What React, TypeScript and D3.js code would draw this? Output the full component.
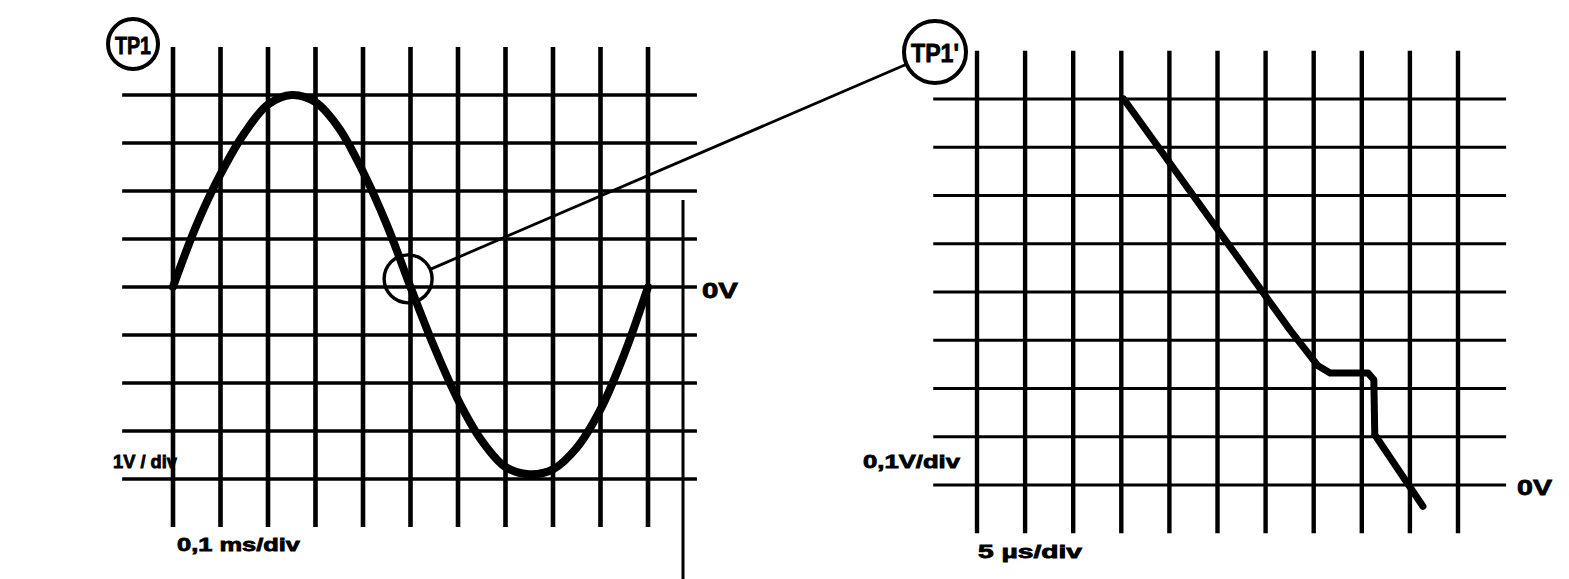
import React from "react";
import * as d3 from "d3";

// Left screen: test point TP1, 0,1 ms/div horizontally, 1 V/div vertically
const leftTimeDivs = [0, 1, 2, 3, 4, 5, 6, 7, 8, 9, 10];
const leftVoltDivs = [-4, -3, -2, -1, 0, 1, 2, 3, 4];
const leftTraceTime = [0, 0.5, 1, 1.5, 2, 2.5, 3, 3.5, 4, 4.5, 5, 5.5, 6, 6.5, 7, 7.5, 8, 8.5, 9, 9.5, 10];
const leftTraceVolts = [0, 1.3, 2.35, 3.2, 3.8, 4.0, 3.85, 3.3, 2.4, 1.3, 0, -1.25, -2.35, -3.2, -3.75, -3.9, -3.8, -3.35, -2.55, -1.4, 0];

// Right screen: zoomed view at TP1', 5 µs/div horizontally, 0,1 V/div vertically
const rightTimeDivs = [0, 1, 2, 3, 4, 5, 6, 7, 8, 9, 10];
const rightVoltDivs = [0, 1, 2, 3, 4, 5, 6, 7, 8];
const rightTraceTime = [3.05, 6.51, 7.09, 7.34, 8.13, 8.25, 8.27, 9.27];
const rightTraceVolts = [8, 3.21, 2.47, 2.32, 2.32, 2.18, 1.04, -0.44];

const labels = {
  left: { probe: "TP1", volts: "1V / div", time: "0,1 ms/div", zero: "0V" },
  right: { probe: "TP1'", volts: "0,1V/div", time: "5 µs/div", zero: "0V" },
};

const W = 1569;
const H = 579;
const FONT = "'Liberation Sans', Arial, sans-serif";

export default function App() {
  const lx = d3.scaleLinear().domain([0, 10]).range([173, 648]);
  const ly = d3.scaleLinear().domain([-4, 4]).range([479, 95]);
  const rx = d3.scaleLinear().domain([0, 10]).range([977, 1458]);
  const ry = d3.scaleLinear().domain([0, 8]).range([485, 99]);

  const leftLine = d3
    .line<number>()
    .x((_, i) => lx(leftTraceTime[i]))
    .y((v) => ly(v))
    .curve(d3.curveCatmullRom.alpha(0.5));

  const rightLine = d3
    .line<number>()
    .x((_, i) => rx(rightTraceTime[i]))
    .y((v) => ry(v))
    .curve(d3.curveLinear);

  // zoom marker on the left trace and its leader to the TP1' badge
  const mark = { x: lx(4.95), y: ly(0.17), r: 24 };
  const badgeR = { x: 935, y: 52, r: 31 };
  const badgeL = { x: 133, y: 44, r: 25 };
  const dx = badgeR.x - mark.x;
  const dy = badgeR.y - mark.y;
  const len = Math.hypot(dx, dy);
  const ux = dx / len;
  const uy = dy / len;

  const text = (
    s: string,
    x: number,
    y: number,
    size: number,
    width: number,
    anchor: "start" | "middle" = "start"
  ) => (
    <text
      x={x}
      y={y}
      fontFamily={FONT}
      fontWeight="bold"
      fontSize={size}
      textAnchor={anchor}
      textLength={width}
      lengthAdjust="spacingAndGlyphs"
      fill="#000"
      stroke="#000"
      strokeWidth={0.8}
    >
      {s}
    </text>
  );

  return (
    <svg
      width={W}
      height={H}
      viewBox={`0 0 ${W} ${H}`}
      style={{ position: "absolute", left: 0, top: 0, background: "#fff" }}
    >
      <rect x={0} y={0} width={W} height={H} fill="#fff" />

      {/* left graticule */}
      <g stroke="#000">
        {leftVoltDivs.map((v) => (
          <line key={`lh${v}`} x1={lx(-1.07)} x2={lx(11.03)} y1={ly(v)} y2={ly(v)} strokeWidth={3.4} />
        ))}
        {leftTimeDivs.map((t) => (
          <line key={`lv${t}`} x1={lx(t)} x2={lx(t)} y1={ly(5)} y2={ly(-5)} strokeWidth={4.6} />
        ))}
        <line x1={683} x2={683} y1={200} y2={H} strokeWidth={3} />
      </g>

      {/* left trace */}
      <path
        d={leftLine(leftTraceVolts) || ""}
        fill="none"
        stroke="#000"
        strokeWidth={8}
        strokeLinecap="round"
        strokeLinejoin="round"
      />

      {/* right graticule */}
      <g stroke="#000">
        {rightVoltDivs.map((v) => (
          <line key={`rh${v}`} x1={rx(-0.91)} x2={rx(11.0)} y1={ry(v)} y2={ry(v)} strokeWidth={3.2} />
        ))}
        {rightTimeDivs.map((t) => (
          <line key={`rv${t}`} x1={rx(t)} x2={rx(t)} y1={ry(9)} y2={ry(-1)} strokeWidth={4.4} />
        ))}
      </g>

      {/* right trace */}
      <path
        d={rightLine(rightTraceVolts) || ""}
        fill="none"
        stroke="#000"
        strokeWidth={7}
        strokeLinecap="round"
        strokeLinejoin="round"
      />

      {/* zoom marker and leader */}
      <circle cx={mark.x} cy={mark.y} r={mark.r} fill="none" stroke="#000" strokeWidth={3.4} />
      <line
        x1={mark.x + ux * mark.r}
        y1={mark.y + uy * mark.r}
        x2={badgeR.x - ux * badgeR.r}
        y2={badgeR.y - uy * badgeR.r}
        stroke="#000"
        strokeWidth={2.8}
      />

      {/* probe badges */}
      <circle cx={badgeL.x} cy={badgeL.y} r={badgeL.r} fill="#fff" stroke="#000" strokeWidth={4} />
      {text(labels.left.probe, badgeL.x, 54, 24, 36, "middle")}
      <circle cx={badgeR.x} cy={badgeR.y} r={badgeR.r} fill="#fff" stroke="#000" strokeWidth={4} />
      {text(labels.right.probe, badgeR.x, 62, 26, 48, "middle")}

      {/* scale annotations */}
      {text(labels.left.zero, 702, ly(0) + 11, 22, 36)}
      {text(labels.left.volts, 113, 468, 18, 64)}
      {text(labels.left.time, 177, 551, 19, 123)}
      {text(labels.right.zero, 1517, ry(0) + 10, 22, 35)}
      {text(labels.right.volts, 863, 468, 19, 97)}
      {text(labels.right.time, 978, 558, 19, 104)}
    </svg>
  );
}
